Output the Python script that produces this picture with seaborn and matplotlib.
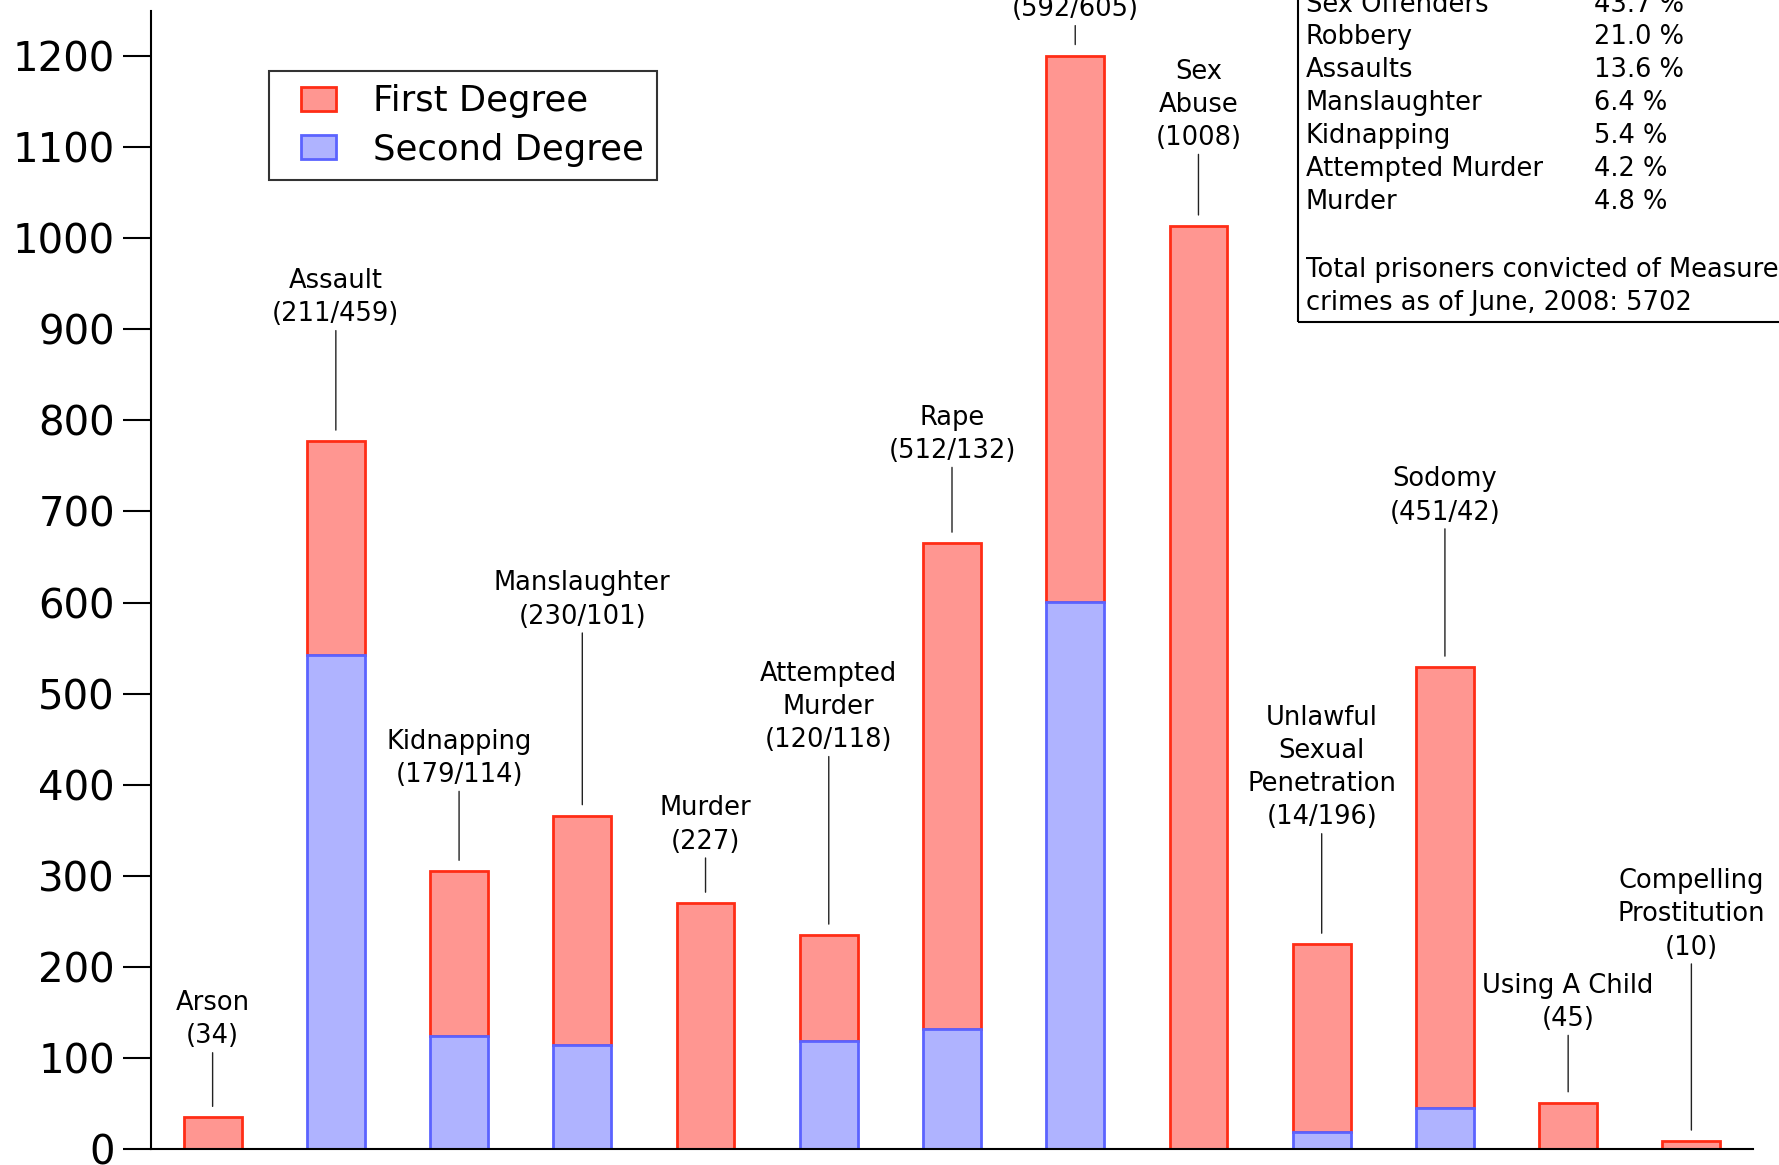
import pandas as pd
import matplotlib.pyplot as plt
import seaborn as sns
from matplotlib.patches import Patch, Rectangle
from matplotlib.legend_handler import HandlerPatch

# Measure 11 prisoners by crime
crimes = ["Arson", "Assault", "Kidnapping", "Manslaughter", "Murder",
          "Attempted Murder", "Rape", "Robbery", "Sex Abuse",
          "Unlawful Sexual Penetration", "Sodomy", "Using A Child",
          "Compelling Prostitution"]
first_degree = [35, 235, 181, 252, 270, 116, 533, 599, 1013, 206, 484, 51, 9]
second_degree = [0, 542, 124, 114, 0, 119, 132, 601, 0, 19, 45, 0, 0]
bar_labels = ["Arson\n(34)", "Assault\n(211/459)", "Kidnapping\n(179/114)",
              "Manslaughter\n(230/101)", "Murder\n(227)",
              "Attempted\nMurder\n(120/118)", "Rape\n(512/132)",
              "Robbery\n(592/605)", "Sex\nAbuse\n(1008)",
              "Unlawful\nSexual\nPenetration\n(14/196)", "Sodomy\n(451/42)",
              "Using A Child\n(45)", "Compelling\nProstitution\n(10)"]

# share table in the upper right box
share_names = ["Sex Offenders", "Robbery", "Assaults", "Manslaughter",
               "Kidnapping", "Attempted Murder", "Murder"]
share_pct = ["43.7 %", "21.0 %", "13.6 %", "6.4 %", "5.4 %", "4.2 %", "4.8 %"]
total_note = ["Total prisoners convicted of Measure 11",
              "crimes as of June, 2008: 5702"]

df = pd.DataFrame({"crime": crimes, "first": first_degree, "second": second_degree})
df["total"] = df["first"] + df["second"]

red_fill, red_edge = "#ff9691", "#ff2d16"
blue_fill, blue_edge = "#afb3ff", "#5b63ff"

sns.set_theme(style="ticks")
plt.rcParams["font.family"] = ["DejaVu Sans"]
plt.rcParams["text.color"] = "black"
plt.rcParams["ytick.color"] = "black"
plt.rcParams["ytick.labelcolor"] = "black"

W, H = 1779, 1165
fig = plt.figure(figsize=(W / 100, H / 100), dpi=100)
ax = fig.add_axes([151 / W, 1 - 1149.4 / H, (1753 - 151) / W, (1149.4 - 11) / H])

# first degree stacked on top of second degree
sns.barplot(data=df, x="crime", y="first", order=crimes, bottom=df["second"].values,
            color=red_fill, edgecolor=red_edge, linewidth=2, saturation=1,
            width=0.47, errorbar=None, ax=ax)
sns.barplot(data=df, x="crime", y="second", order=crimes,
            color=blue_fill, edgecolor=blue_edge, linewidth=2, saturation=1,
            width=0.47, errorbar=None, ax=ax)

ax.set_xlim(-0.5, 12.5)
ax.set_ylim(0, 1249)
ax.set_xticks([])
ax.set_yticks(range(0, 1201, 100))
ax.set_xlabel("")
ax.set_ylabel("")
ax.tick_params(axis="y", length=20, width=1.5, labelsize=29, pad=6, colors="black")
for side in ["top", "right"]:
    ax.spines[side].set_visible(False)
for side in ["left", "bottom"]:
    ax.spines[side].set_linewidth(1.5)
    ax.spines[side].set_color("black")

# labels with leader lines (offsets in points above bar top)
leads = [49, 82, 60, 134, 35, 131, 57, 24, 54, 82, 102, 51, 130]
for i, (lab, tot) in enumerate(zip(bar_labels, df["total"])):
    ax.annotate(lab, xy=(i, tot), xytext=(0, leads[i]), textcoords="offset points",
                ha="center", va="bottom", fontsize=18.5, linespacing=1.36,
                color="black", annotation_clip=False,
                arrowprops=dict(arrowstyle="-", color="#222222", lw=1,
                                shrinkA=0, shrinkB=8))


# square legend key sitting at the right end of the handle box
def square_key(legend, orig_handle, xdescent, ydescent, width, height, fontsize):
    side = 0.99 * fontsize
    return Rectangle((-xdescent + width - side, -ydescent), side, height)


handles = [Patch(facecolor=red_fill, edgecolor=red_edge, linewidth=2, label="First Degree"),
           Patch(facecolor=blue_fill, edgecolor=blue_edge, linewidth=2, label="Second Degree")]
leg = fig.legend(handles=handles, loc="upper left", bbox_to_anchor=(269 / W, 1 - 71 / H),
                 fontsize=25.5, frameon=True, fancybox=False, borderpad=0.37,
                 handlelength=1.52, handleheight=0.67, handletextpad=1.06,
                 labelspacing=0.41, borderaxespad=0,
                 handler_map={Patch: HandlerPatch(patch_func=square_key)})
leg.get_frame().set_edgecolor("black")
leg.get_frame().set_linewidth(1.5)

# share box in the upper right, running off the page
fig.add_artist(Rectangle((1298 / W, 1 - 322 / H), 0.5, 0.5, transform=fig.transFigure,
                         fill=False, edgecolor="black", linewidth=1.5))
row_px = 32.9
for i, (name, pct) in enumerate(zip(share_names, share_pct)):
    y = 1 - (4.5 + i * row_px) / H
    fig.text(1306 / W, y, name, fontsize=18.5, va="center", ha="left")
    fig.text(1594 / W, y, pct, fontsize=18.5, va="center", ha="left")
for j, line in enumerate(total_note):
    fig.text(1306 / W, 1 - (270 + j * row_px) / H, line, fontsize=18.5,
             va="center", ha="left")

fig.savefig("out.png", dpi=100)
